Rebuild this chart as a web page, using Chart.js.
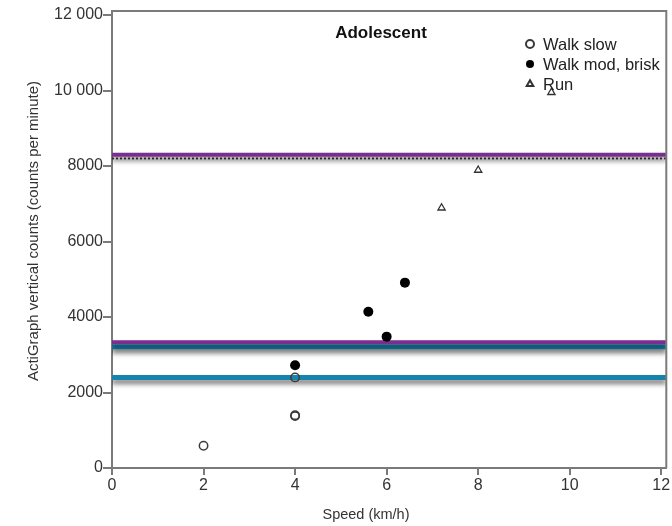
<!DOCTYPE html>
<html><head><meta charset="utf-8">
<script src="https://cdn.jsdelivr.net/npm/chart.js@4"></script>
<style>html,body{margin:0;padding:0;background:#fff}#wrap{width:672px;height:526px;position:relative}</style>
</head><body><div id="wrap"><canvas id="c"></canvas></div>
<script>
// ---- data ----
const xTicks = [0, 2, 4, 6, 8, 10, 12];
const yTicks = [0, 2000, 4000, 6000, 8000, 10000, 12000];
const yTickLabels = ['0', '2000', '4000', '6000', '8000', '10 000', '12 000'];

const seriesNames = ['Walk slow', 'Walk mod, brisk', 'Run'];
const walkSlowX = [2, 4, 4, 4];
const walkSlowY = [590, 1375, 1400, 2400];
const walkBriskX = [4, 5.6, 6, 6.4];
const walkBriskY = [2720, 4140, 3480, 4910];
const runX = [7.2, 8, 9.6];
const runY = [6890, 7890, 9950];

const thresholdValues = [8300, 8200, 3330, 3210, 2400];
const thresholdColors = ['#7a2e8f', '#333333', '#7a2e8f', '#1683ad', '#1683ad'];

const titleText = 'Adolescent';
const xTitle = 'Speed (km/h)';
const yTitle = 'ActiGraph vertical counts (counts per minute)';

// axis extents (frame slightly beyond last tick, like the original)
const X_MIN = 0, X_MAX = 12.11;
const Y_MIN = 0, Y_MAX = 12106;

const FONT = '"Liberation Sans", Arial, Helvetica, sans-serif';
const AXIS = '#7a7a7a';
const TEXT = '#333333';

const pts = (xs, ys) => xs.map((x, i) => ({x, y: ys[i]}));

const datasets = [];
thresholdValues.forEach((v, i) => {
  const dotted = thresholdColors[i] === '#333333';
  datasets.push({
    type: 'line',
    label: 'threshold ' + v,
    data: [{x: X_MIN, y: v}, {x: X_MAX, y: v}],
    borderColor: thresholdColors[i],
    borderWidth: dotted ? 1.8 : (thresholdColors[i] === '#1683ad' ? 5 : 4),
    borderDash: dotted ? [2, 2] : [],
    pointRadius: 0,
    fill: false,
    shadow: !dotted,
    order: 10 + i,
    legendItem: false
  });
});
datasets.push({
  type: 'scatter', label: seriesNames[0], data: pts(walkSlowX, walkSlowY),
  pointStyle: 'circle', pointRadius: 4.2, borderWidth: 1.5,
  borderColor: '#3a3a3a', backgroundColor: 'rgba(255,255,255,0)', order: 1, legendItem: true, legendFill: '#ffffff'
});
datasets.push({
  type: 'scatter', label: seriesNames[1], data: pts(walkBriskX, walkBriskY),
  pointStyle: 'circle', pointRadius: 5, borderWidth: 0,
  borderColor: '#000', backgroundColor: '#000', order: 0, legendItem: true, legendFill: '#000'
});
datasets.push({
  type: 'scatter', label: seriesNames[2], data: pts(runX, runY),
  pointStyle: 'triangle', pointRadius: 4.2, borderWidth: 1.3,
  borderColor: '#333', backgroundColor: '#ffffff', order: 0, legendItem: true, legendFill: '#ffffff'
});

const shadowPlugin = {
  id: 'shadow',
  beforeDatasetDraw(chart, args) {
    const ds = chart.data.datasets[args.index];
    if (ds.shadow) {
      const ctx = chart.ctx;
      ctx.save();
      ctx.shadowColor = 'rgba(0,0,0,0.55)';
      ctx.shadowBlur = 5;
      ctx.shadowOffsetY = 4;
      ds._shadowSaved = true;
    }
  },
  afterDatasetDraw(chart, args) {
    const ds = chart.data.datasets[args.index];
    if (ds._shadowSaved) { chart.ctx.restore(); ds._shadowSaved = false; }
  }
};

const decorPlugin = {
  id: 'decor',
  afterDraw(chart) {
    const ctx = chart.ctx, a = chart.chartArea;
    ctx.save();
    // top and right frame
    ctx.strokeStyle = AXIS; ctx.lineWidth = 2;
    ctx.beginPath();
    ctx.moveTo(a.left, a.top); ctx.lineTo(a.right, a.top); ctx.lineTo(a.right, a.bottom);
    ctx.stroke();
    // panel title
    ctx.fillStyle = '#111';
    ctx.font = 'bold 17px ' + FONT;
    ctx.textAlign = 'center'; ctx.textBaseline = 'middle';
    ctx.fillText(titleText, 381, 33);
    // legend
    ctx.font = '16.5px ' + FONT;
    ctx.textAlign = 'left';
    let row = 0;
    chart.data.datasets.forEach(ds => {
      if (!ds.legendItem) return;
      const y = 44 + row * 20;
      ctx.fillStyle = ds.legendFill;
      ctx.strokeStyle = ds.borderColor;
      Chart.helpers.drawPoint(ctx, {
        pointStyle: ds.pointStyle,
        radius: ds.pointStyle === 'triangle' ? 3.8 : 4,
        borderWidth: ds.pointStyle === 'circle' && ds.borderWidth === 0 ? 0 : 1.3,
        rotation: 0
      }, 530, y);
      ctx.fillStyle = '#222';
      ctx.fillText(ds.label, 543, y + 1);
      row++;
    });
    // axis titles
    ctx.fillStyle = TEXT;
    ctx.font = '14.5px ' + FONT;
    ctx.textAlign = 'center'; ctx.textBaseline = 'middle';
    ctx.fillText(xTitle, 366, 515);
    ctx.translate(34, 231);
    ctx.rotate(-Math.PI / 2);
    ctx.font = '15px ' + FONT;
    ctx.fillText(yTitle, 0, 0);
    ctx.restore();
  }
};

new Chart(document.getElementById('c'), {
  type: 'scatter',
  data: {datasets},
  options: {
    responsive: true,
    maintainAspectRatio: false,
    animation: false,
    layout: {padding: {top: 11, right: 5, left: 0, bottom: 0}},
    plugins: {legend: {display: false}, tooltip: {enabled: false}, title: {display: false}},
    scales: {
      x: {
        type: 'linear', min: X_MIN, max: X_MAX,
        afterBuildTicks: s => { s.ticks = xTicks.map(v => ({value: v})); },
        afterFit: s => { s.height = 58; },
        ticks: {color: TEXT, font: {family: FONT, size: 16}, padding: 1, maxRotation: 0, autoSkip: false,
                callback: v => String(v)},
        grid: {drawOnChartArea: false, drawTicks: true, tickLength: 7, color: AXIS, lineWidth: 2},
        border: {display: true, color: AXIS, width: 2}
      },
      y: {
        type: 'linear', min: Y_MIN, max: Y_MAX,
        afterBuildTicks: s => { s.ticks = yTicks.map(v => ({value: v})); },
        afterFit: s => { s.width = 112; },
        ticks: {color: TEXT, font: {family: FONT, size: 16}, padding: 0, autoSkip: false,
                callback: v => yTickLabels[yTicks.indexOf(v)]},
        grid: {drawOnChartArea: false, drawTicks: true, tickLength: 9, color: AXIS, lineWidth: 2},
        border: {display: true, color: AXIS, width: 2}
      }
    }
  },
  plugins: [shadowPlugin, decorPlugin]
});
</script>
</body></html>
